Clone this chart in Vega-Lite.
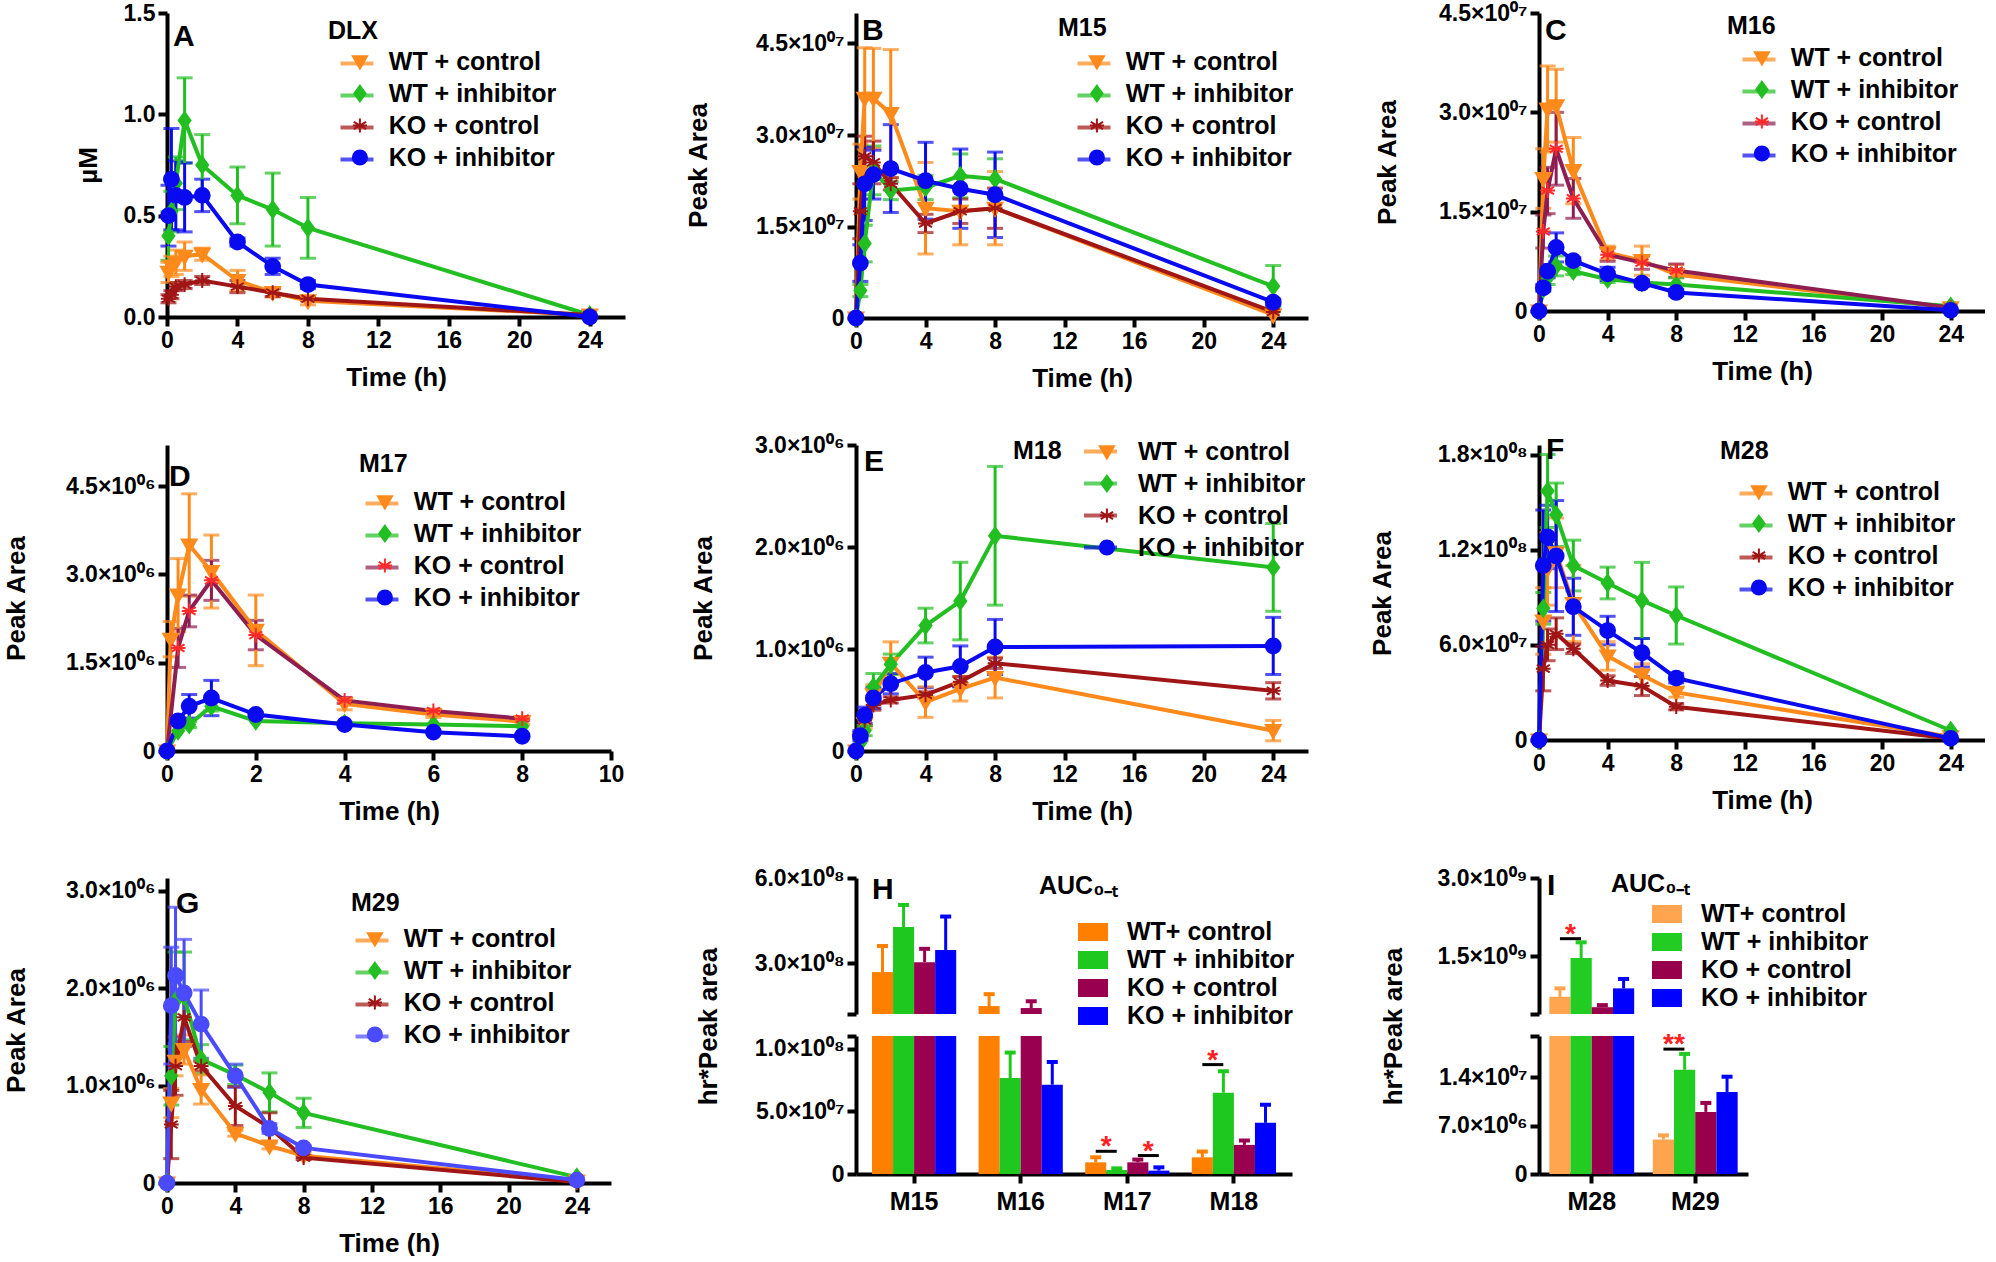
{
 "$schema": "https://vega.github.io/schema/vega-lite/v6.json",
 "padding": {"left": 3, "top": 2, "right": 0, "bottom": 0},
 "columns": 3,
 "spacing": {"row": 127, "column": 231},
 "bounds": "flush",
 "align": "each",
 "resolve": {"scale": {"color": "independent", "fill": "independent", "stroke": "independent", "shape": "independent", "xOffset": "independent"}, "legend": {"color": "independent", "fill": "independent", "stroke": "independent", "shape": "independent"}},
 "datasets": {
  "A": [
   {"s":"WT + control","t":0.083,"v":0.22,"sd":0.05},{"s":"WT + control","t":0.25,"v":0.25,"sd":0.05},{"s":"WT + control","t":0.5,"v":0.27,"sd":0.06},{"s":"WT + control","t":1,"v":0.30,"sd":0.07},{"s":"WT + control","t":2,"v":0.31,"sd":0.03},{"s":"WT + control","t":4,"v":0.18,"sd":0.05},{"s":"WT + control","t":6,"v":0.12,"sd":0.02},{"s":"WT + control","t":8,"v":0.08,"sd":0.02},{"s":"WT + control","t":24,"v":0.01,"sd":0},
   {"s":"WT + inhibitor","t":0.083,"v":0.40,"sd":0.12},{"s":"WT + inhibitor","t":0.25,"v":0.52,"sd":0.1},{"s":"WT + inhibitor","t":0.5,"v":0.66,"sd":0.13},{"s":"WT + inhibitor","t":1,"v":0.97,"sd":0.21},{"s":"WT + inhibitor","t":2,"v":0.75,"sd":0.15},{"s":"WT + inhibitor","t":4,"v":0.60,"sd":0.14},{"s":"WT + inhibitor","t":6,"v":0.53,"sd":0.18},{"s":"WT + inhibitor","t":8,"v":0.44,"sd":0.15},{"s":"WT + inhibitor","t":24,"v":0.01,"sd":0},
   {"s":"KO + control","t":0.083,"v":0.09,"sd":0.02},{"s":"KO + control","t":0.25,"v":0.11,"sd":0.02},{"s":"KO + control","t":0.5,"v":0.15,"sd":0.02},{"s":"KO + control","t":1,"v":0.16,"sd":0.02},{"s":"KO + control","t":2,"v":0.18,"sd":0.02},{"s":"KO + control","t":4,"v":0.15,"sd":0.03},{"s":"KO + control","t":6,"v":0.12,"sd":0.02},{"s":"KO + control","t":8,"v":0.09,"sd":0.01},{"s":"KO + control","t":24,"v":0.01,"sd":0},
   {"s":"KO + inhibitor","t":0.083,"v":0.50,"sd":0.15},{"s":"KO + inhibitor","t":0.25,"v":0.68,"sd":0.25},{"s":"KO + inhibitor","t":0.5,"v":0.60,"sd":0.17},{"s":"KO + inhibitor","t":1,"v":0.59,"sd":0.17},{"s":"KO + inhibitor","t":2,"v":0.60,"sd":0.08},{"s":"KO + inhibitor","t":4,"v":0.37,"sd":0.02},{"s":"KO + inhibitor","t":6,"v":0.25,"sd":0.04},{"s":"KO + inhibitor","t":8,"v":0.16,"sd":0.02},{"s":"KO + inhibitor","t":24,"v":0.0,"sd":0}
  ],
  "B": [
   {"s":"WT + control","t":0,"v":0,"sd":0},{"s":"WT + control","t":0.25,"v":2.4e7,"sd":0.45e7},{"s":"WT + control","t":0.5,"v":3.6e7,"sd":0.83e7},{"s":"WT + control","t":1,"v":3.6e7,"sd":0.82e7},{"s":"WT + control","t":2,"v":3.35e7,"sd":1.05e7},{"s":"WT + control","t":4,"v":1.8e7,"sd":0.75e7},{"s":"WT + control","t":6,"v":1.75e7,"sd":0.55e7},{"s":"WT + control","t":8,"v":1.8e7,"sd":0.6e7},{"s":"WT + control","t":24,"v":0.05e7,"sd":0},
   {"s":"WT + inhibitor","t":0,"v":0,"sd":0},{"s":"WT + inhibitor","t":0.25,"v":0.45e7,"sd":0.1e7},{"s":"WT + inhibitor","t":0.5,"v":1.22e7,"sd":0.3e7},{"s":"WT + inhibitor","t":1,"v":2.42e7,"sd":0.4e7},{"s":"WT + inhibitor","t":2,"v":2.09e7,"sd":0.15e7},{"s":"WT + inhibitor","t":4,"v":2.14e7,"sd":0.2e7},{"s":"WT + inhibitor","t":6,"v":2.33e7,"sd":0.36e7},{"s":"WT + inhibitor","t":8,"v":2.28e7,"sd":0.33e7},{"s":"WT + inhibitor","t":24,"v":0.52e7,"sd":0.34e7},
   {"s":"KO + control","t":0,"v":0,"sd":0},{"s":"KO + control","t":0.25,"v":1.75e7,"sd":0.45e7},{"s":"KO + control","t":0.5,"v":2.65e7,"sd":0.33e7},{"s":"KO + control","t":1,"v":2.55e7,"sd":0.35e7},{"s":"KO + control","t":2,"v":2.2e7,"sd":0.1e7},{"s":"KO + control","t":4,"v":1.55e7,"sd":0.15e7},{"s":"KO + control","t":6,"v":1.75e7,"sd":0.2e7},{"s":"KO + control","t":8,"v":1.8e7,"sd":0.33e7},{"s":"KO + control","t":24,"v":0.1e7,"sd":0},
   {"s":"KO + inhibitor","t":0,"v":0,"sd":0},{"s":"KO + inhibitor","t":0.25,"v":0.9e7,"sd":0.3e7},{"s":"KO + inhibitor","t":0.5,"v":2.2e7,"sd":0.6e7},{"s":"KO + inhibitor","t":1,"v":2.35e7,"sd":0.4e7},{"s":"KO + inhibitor","t":2,"v":2.45e7,"sd":0.72e7},{"s":"KO + inhibitor","t":4,"v":2.25e7,"sd":0.63e7},{"s":"KO + inhibitor","t":6,"v":2.12e7,"sd":0.65e7},{"s":"KO + inhibitor","t":8,"v":2.02e7,"sd":0.7e7},{"s":"KO + inhibitor","t":24,"v":0.26e7,"sd":0.05e7}
  ],
  "C": [
   {"s":"WT + control","t":0,"v":0,"sd":0},{"s":"WT + control","t":0.25,"v":2.0e7,"sd":0.45e7},{"s":"WT + control","t":0.5,"v":3.05e7,"sd":0.65e7},{"s":"WT + control","t":1,"v":3.1e7,"sd":0.55e7},{"s":"WT + control","t":2,"v":2.12e7,"sd":0.5e7},{"s":"WT + control","t":4,"v":0.88e7,"sd":0.1e7},{"s":"WT + control","t":6,"v":0.76e7,"sd":0.22e7},{"s":"WT + control","t":8,"v":0.55e7,"sd":0.15e7},{"s":"WT + control","t":24,"v":0.05e7,"sd":0},
   {"s":"WT + inhibitor","t":0,"v":0,"sd":0},{"s":"WT + inhibitor","t":0.25,"v":0.33e7,"sd":0},{"s":"WT + inhibitor","t":0.5,"v":0.5e7,"sd":0.1e7},{"s":"WT + inhibitor","t":1,"v":0.68e7,"sd":0.15e7},{"s":"WT + inhibitor","t":2,"v":0.6e7,"sd":0.05e7},{"s":"WT + inhibitor","t":4,"v":0.48e7,"sd":0.05e7},{"s":"WT + inhibitor","t":6,"v":0.43e7,"sd":0.03e7},{"s":"WT + inhibitor","t":8,"v":0.4e7,"sd":0.1e7},{"s":"WT + inhibitor","t":24,"v":0.07e7,"sd":0},
   {"s":"KO + control","t":0,"v":0,"sd":0},{"s":"KO + control","t":0.25,"v":1.2e7,"sd":0.25e7},{"s":"KO + control","t":0.5,"v":1.82e7,"sd":0.35e7},{"s":"KO + control","t":1,"v":2.45e7,"sd":0.55e7},{"s":"KO + control","t":2,"v":1.7e7,"sd":0.3e7},{"s":"KO + control","t":4,"v":0.85e7,"sd":0.1e7},{"s":"KO + control","t":6,"v":0.73e7,"sd":0.1e7},{"s":"KO + control","t":8,"v":0.61e7,"sd":0.1e7},{"s":"KO + control","t":24,"v":0.05e7,"sd":0},
   {"s":"KO + inhibitor","t":0,"v":0,"sd":0},{"s":"KO + inhibitor","t":0.25,"v":0.35e7,"sd":0.05e7},{"s":"KO + inhibitor","t":0.5,"v":0.6e7,"sd":0.1e7},{"s":"KO + inhibitor","t":1,"v":0.96e7,"sd":0.22e7},{"s":"KO + inhibitor","t":2,"v":0.76e7,"sd":0.05e7},{"s":"KO + inhibitor","t":4,"v":0.56e7,"sd":0.1e7},{"s":"KO + inhibitor","t":6,"v":0.42e7,"sd":0.05e7},{"s":"KO + inhibitor","t":8,"v":0.28e7,"sd":0.05e7},{"s":"KO + inhibitor","t":24,"v":0.01e7,"sd":0}
  ],
  "D": [
   {"s":"WT + control","t":0,"v":0,"sd":0},{"s":"WT + control","t":0.083,"v":1.9e6,"sd":0.3e6},{"s":"WT + control","t":0.25,"v":2.65e6,"sd":0.62e6},{"s":"WT + control","t":0.5,"v":3.5e6,"sd":0.87e6},{"s":"WT + control","t":1,"v":3.05e6,"sd":0.62e6},{"s":"WT + control","t":2,"v":2.05e6,"sd":0.6e6},{"s":"WT + control","t":4,"v":0.8e6,"sd":0.1e6},{"s":"WT + control","t":6,"v":0.62e6,"sd":0.05e6},{"s":"WT + control","t":8,"v":0.5e6,"sd":0.05e6},
   {"s":"WT + inhibitor","t":0,"v":0,"sd":0},{"s":"WT + inhibitor","t":0.25,"v":0.34e6,"sd":0},{"s":"WT + inhibitor","t":0.5,"v":0.45e6,"sd":0.05e6},{"s":"WT + inhibitor","t":1,"v":0.76e6,"sd":0.08e6},{"s":"WT + inhibitor","t":2,"v":0.51e6,"sd":0},{"s":"WT + inhibitor","t":4,"v":0.47e6,"sd":0},{"s":"WT + inhibitor","t":6,"v":0.45e6,"sd":0},{"s":"WT + inhibitor","t":8,"v":0.42e6,"sd":0},
   {"s":"KO + control","t":0,"v":0,"sd":0},{"s":"KO + control","t":0.25,"v":1.75e6,"sd":0.33e6},{"s":"KO + control","t":0.5,"v":2.38e6,"sd":0.27e6},{"s":"KO + control","t":1,"v":2.9e6,"sd":0.34e6},{"s":"KO + control","t":2,"v":1.97e6,"sd":0.25e6},{"s":"KO + control","t":4,"v":0.86e6,"sd":0.05e6},{"s":"KO + control","t":6,"v":0.68e6,"sd":0.03e6},{"s":"KO + control","t":8,"v":0.55e6,"sd":0.03e6},
   {"s":"KO + inhibitor","t":0,"v":0,"sd":0},{"s":"KO + inhibitor","t":0.25,"v":0.51e6,"sd":0.05e6},{"s":"KO + inhibitor","t":0.5,"v":0.76e6,"sd":0.2e6},{"s":"KO + inhibitor","t":1,"v":0.9e6,"sd":0.3e6},{"s":"KO + inhibitor","t":2,"v":0.62e6,"sd":0.03e6},{"s":"KO + inhibitor","t":4,"v":0.45e6,"sd":0},{"s":"KO + inhibitor","t":6,"v":0.32e6,"sd":0},{"s":"KO + inhibitor","t":8,"v":0.25e6,"sd":0}
  ],
  "E": [
   {"s":"WT + control","t":0,"v":0,"sd":0},{"s":"WT + control","t":0.25,"v":0.1e6,"sd":0},{"s":"WT + control","t":0.5,"v":0.27e6,"sd":0.05e6},{"s":"WT + control","t":1,"v":0.55e6,"sd":0.1e6},{"s":"WT + control","t":2,"v":0.86e6,"sd":0.21e6},{"s":"WT + control","t":4,"v":0.48e6,"sd":0.15e6},{"s":"WT + control","t":6,"v":0.61e6,"sd":0.12e6},{"s":"WT + control","t":8,"v":0.72e6,"sd":0.2e6},{"s":"WT + control","t":24,"v":0.2e6,"sd":0.1e6},
   {"s":"WT + inhibitor","t":0,"v":0,"sd":0},{"s":"WT + inhibitor","t":0.25,"v":0.08e6,"sd":0},{"s":"WT + inhibitor","t":0.5,"v":0.2e6,"sd":0.05e6},{"s":"WT + inhibitor","t":1,"v":0.63e6,"sd":0.13e6},{"s":"WT + inhibitor","t":2,"v":0.85e6,"sd":0.1e6},{"s":"WT + inhibitor","t":4,"v":1.23e6,"sd":0.17e6},{"s":"WT + inhibitor","t":6,"v":1.47e6,"sd":0.38e6},{"s":"WT + inhibitor","t":8,"v":2.11e6,"sd":0.68e6},{"s":"WT + inhibitor","t":24,"v":1.8e6,"sd":0.43e6},
   {"s":"KO + control","t":0,"v":0,"sd":0},{"s":"KO + control","t":0.25,"v":0.15e6,"sd":0.03e6},{"s":"KO + control","t":0.5,"v":0.3e6,"sd":0.05e6},{"s":"KO + control","t":1,"v":0.45e6,"sd":0.05e6},{"s":"KO + control","t":2,"v":0.5e6,"sd":0.03e6},{"s":"KO + control","t":4,"v":0.55e6,"sd":0.03e6},{"s":"KO + control","t":6,"v":0.68e6,"sd":0.05e6},{"s":"KO + control","t":8,"v":0.86e6,"sd":0.05e6},{"s":"KO + control","t":24,"v":0.59e6,"sd":0.08e6},
   {"s":"KO + inhibitor","t":0,"v":0,"sd":0},{"s":"KO + inhibitor","t":0.25,"v":0.15e6,"sd":0.05e6},{"s":"KO + inhibitor","t":0.5,"v":0.35e6,"sd":0.08e6},{"s":"KO + inhibitor","t":1,"v":0.52e6,"sd":0.1e6},{"s":"KO + inhibitor","t":2,"v":0.66e6,"sd":0.1e6},{"s":"KO + inhibitor","t":4,"v":0.77e6,"sd":0.15e6},{"s":"KO + inhibitor","t":6,"v":0.83e6,"sd":0.2e6},{"s":"KO + inhibitor","t":8,"v":1.02e6,"sd":0.27e6},{"s":"KO + inhibitor","t":24,"v":1.03e6,"sd":0.28e6}
  ],
  "F": [
   {"s":"WT + control","t":0,"v":0,"sd":0},{"s":"WT + control","t":0.25,"v":7.5e7,"sd":2.1e7},{"s":"WT + control","t":0.5,"v":10.8e7,"sd":2.3e7},{"s":"WT + control","t":1,"v":11.8e7,"sd":2.2e7},{"s":"WT + control","t":2,"v":8.6e7,"sd":2.4e7},{"s":"WT + control","t":4,"v":5.3e7,"sd":0.9e7},{"s":"WT + control","t":6,"v":4.1e7,"sd":0.7e7},{"s":"WT + control","t":8,"v":3.0e7,"sd":0.3e7},{"s":"WT + control","t":24,"v":0.2e7,"sd":0},
   {"s":"WT + inhibitor","t":0,"v":0,"sd":0},{"s":"WT + inhibitor","t":0.25,"v":8.3e7,"sd":1.0e7},{"s":"WT + inhibitor","t":0.5,"v":15.7e7,"sd":2.3e7},{"s":"WT + inhibitor","t":1,"v":14.2e7,"sd":2.0e7},{"s":"WT + inhibitor","t":2,"v":11.0e7,"sd":1.6e7},{"s":"WT + inhibitor","t":4,"v":9.9e7,"sd":1.0e7},{"s":"WT + inhibitor","t":6,"v":8.8e7,"sd":2.4e7},{"s":"WT + inhibitor","t":8,"v":7.85e7,"sd":1.8e7},{"s":"WT + inhibitor","t":24,"v":0.6e7,"sd":0},
   {"s":"KO + control","t":0,"v":0,"sd":0},{"s":"KO + control","t":0.25,"v":4.5e7,"sd":1.4e7},{"s":"KO + control","t":0.5,"v":6.0e7,"sd":1.0e7},{"s":"KO + control","t":1,"v":6.7e7,"sd":1.0e7},{"s":"KO + control","t":2,"v":5.75e7,"sd":0.3e7},{"s":"KO + control","t":4,"v":3.75e7,"sd":0.3e7},{"s":"KO + control","t":6,"v":3.4e7,"sd":0.6e7},{"s":"KO + control","t":8,"v":2.1e7,"sd":0.2e7},{"s":"KO + control","t":24,"v":0.1e7,"sd":0},
   {"s":"KO + inhibitor","t":0,"v":0,"sd":0},{"s":"KO + inhibitor","t":0.25,"v":11.0e7,"sd":3.5e7},{"s":"KO + inhibitor","t":0.5,"v":12.8e7,"sd":2.0e7},{"s":"KO + inhibitor","t":1,"v":11.6e7,"sd":3.5e7},{"s":"KO + inhibitor","t":2,"v":8.4e7,"sd":1.8e7},{"s":"KO + inhibitor","t":4,"v":6.9e7,"sd":0.9e7},{"s":"KO + inhibitor","t":6,"v":5.5e7,"sd":0.9e7},{"s":"KO + inhibitor","t":8,"v":3.9e7,"sd":0.3e7},{"s":"KO + inhibitor","t":24,"v":0.1e7,"sd":0}
  ],
  "G": [
   {"s":"WT + control","t":0,"v":0,"sd":0},{"s":"WT + control","t":0.25,"v":0.82e6,"sd":0.15e6},{"s":"WT + control","t":0.5,"v":1.25e6,"sd":0.15e6},{"s":"WT + control","t":1,"v":1.37e6,"sd":0.15e6},{"s":"WT + control","t":2,"v":0.96e6,"sd":0.15e6},{"s":"WT + control","t":4,"v":0.51e6,"sd":0.03e6},{"s":"WT + control","t":6,"v":0.38e6,"sd":0.03e6},{"s":"WT + control","t":8,"v":0.28e6,"sd":0.02e6},{"s":"WT + control","t":24,"v":0.02e6,"sd":0},
   {"s":"WT + inhibitor","t":0,"v":0,"sd":0},{"s":"WT + inhibitor","t":0.25,"v":1.1e6,"sd":0.3e6},{"s":"WT + inhibitor","t":0.5,"v":1.87e6,"sd":0.5e6},{"s":"WT + inhibitor","t":1,"v":1.92e6,"sd":0.45e6},{"s":"WT + inhibitor","t":2,"v":1.27e6,"sd":0.15e6},{"s":"WT + inhibitor","t":4,"v":1.11e6,"sd":0.1e6},{"s":"WT + inhibitor","t":6,"v":0.93e6,"sd":0.2e6},{"s":"WT + inhibitor","t":8,"v":0.72e6,"sd":0.15e6},{"s":"WT + inhibitor","t":24,"v":0.06e6,"sd":0},
   {"s":"KO + control","t":0,"v":0,"sd":0},{"s":"KO + control","t":0.25,"v":0.6e6,"sd":0.35e6},{"s":"KO + control","t":0.5,"v":1.2e6,"sd":0.3e6},{"s":"KO + control","t":1,"v":1.7e6,"sd":0.25e6},{"s":"KO + control","t":2,"v":1.2e6,"sd":0.05e6},{"s":"KO + control","t":4,"v":0.79e6,"sd":0.2e6},{"s":"KO + control","t":6,"v":0.57e6,"sd":0.15e6},{"s":"KO + control","t":8,"v":0.26e6,"sd":0.02e6},{"s":"KO + control","t":24,"v":0.01e6,"sd":0},
   {"s":"KO + inhibitor","t":0,"v":0,"sd":0},{"s":"KO + inhibitor","t":0.25,"v":1.82e6,"sd":0.6e6},{"s":"KO + inhibitor","t":0.5,"v":2.13e6,"sd":0.7e6},{"s":"KO + inhibitor","t":1,"v":1.95e6,"sd":0.55e6},{"s":"KO + inhibitor","t":2,"v":1.63e6,"sd":0.35e6},{"s":"KO + inhibitor","t":4,"v":1.1e6,"sd":0.12e6},{"s":"KO + inhibitor","t":6,"v":0.56e6,"sd":0.05e6},{"s":"KO + inhibitor","t":8,"v":0.36e6,"sd":0.02e6},{"s":"KO + inhibitor","t":24,"v":0.03e6,"sd":0}
  ],
  "H": [
   {"m":"M15","s":"WT+ control","v":2.68e8,"hi":3.6e8},{"m":"M15","s":"WT + inhibitor","v":4.27e8,"hi":5.05e8},{"m":"M15","s":"KO + control","v":3.03e8,"hi":3.5e8},{"m":"M15","s":"KO + inhibitor","v":3.46e8,"hi":4.64e8},
   {"m":"M16","s":"WT+ control","v":1.48e8,"hi":1.9e8},{"m":"M16","s":"WT + inhibitor","v":0.765e8,"hi":0.968e8},{"m":"M16","s":"KO + control","v":1.41e8,"hi":1.65e8},{"m":"M16","s":"KO + inhibitor","v":0.712e8,"hi":0.893e8},
   {"m":"M17","s":"WT+ control","v":9.3e6,"hi":1.33e7},{"m":"M17","s":"WT + inhibitor","v":3.2e6,"hi":4.5e6},{"m":"M17","s":"KO + control","v":9.3e6,"hi":1.15e7},{"m":"M17","s":"KO + inhibitor","v":2.7e6,"hi":5.3e6},
   {"m":"M18","s":"WT+ control","v":1.33e7,"hi":1.79e7},{"m":"M18","s":"WT + inhibitor","v":6.48e7,"hi":8.19e7},{"m":"M18","s":"KO + control","v":2.32e7,"hi":2.67e7},{"m":"M18","s":"KO + inhibitor","v":4.08e7,"hi":5.52e7}
  ],
  "Hs": [
   {"m":"M17","s":"WT+ control","y":1.81e7,"lab":"*"},
   {"m":"M17","s":"KO + control","y":1.47e7,"lab":"*"},
   {"m":"M18","s":"WT+ control","y":8.72e7,"lab":"*"}
  ],
  "I": [
   {"m":"M28","s":"WT+ control","v":0.73e9,"hi":0.89e9},{"m":"M28","s":"WT + inhibitor","v":1.47e9,"hi":1.77e9},{"m":"M28","s":"KO + control","v":0.53e9,"hi":0.57e9},{"m":"M28","s":"KO + inhibitor","v":0.89e9,"hi":1.07e9},
   {"m":"M29","s":"WT+ control","v":5.0e6,"hi":5.6e6},{"m":"M29","s":"WT + inhibitor","v":1.51e7,"hi":1.74e7},{"m":"M29","s":"KO + control","v":9.0e6,"hi":1.03e7},{"m":"M29","s":"KO + inhibitor","v":1.19e7,"hi":1.41e7}
  ],
  "Is": [
   {"m":"M28","s":"WT+ control","y":1.84e9,"lab":"*","seg":"upper"},
   {"m":"M29","s":"WT+ control","y":1.81e7,"lab":"**","seg":"lower"}
  ]
 },
 "concat": [
  {
   "width": 458, "height": 304,
   "title": {"text": "A", "dx": 6, "dy": 54},
   "data": {"name": "A"},
   "encoding": {
    "x": {"field": "t", "type": "quantitative", "scale": {"domain": [0, 26], "nice": false, "zero": false}, "axis": {"values": [0,4,8,12,16,20,24], "title": "Time (h)"}},
    "y": {"field": "v", "type": "quantitative", "scale": {"domain": [0, 1.5], "nice": false}, "axis": {"values": [0,0.5,1,1.5], "format": ".1f", "title": "µM", "titleX": -79, "titleY": 152}}
   },
   "layer": [
    {"transform": [{"filter": "datum.sd > 0"}], "mark": {"type": "errorbar", "ticks": true, "size": 16, "thickness": 3}, "encoding": {"yError": {"field": "sd"}, "color": {"field": "s", "type": "nominal", "scale": {"domain": ["KO + inhibitor","KO + control","WT + inhibitor","WT + control"], "range": ["#0A0AF0","#A01515","#22BE22","#FF8A1C"]},
      "legend": {"title": "DLX", "values": ["WT + control","WT + inhibitor","KO + control","KO + inhibitor"], "orient": "none", "legendX": 161, "legendY": 6, "titlePadding": 7, "rowPadding": 6, "symbolType": "M0,0L3.3,0", "symbolSize": 400, "symbolStrokeWidth": 4, "labelExpr": "''"}}}},
    {"mark": {"type": "line", "strokeWidth": 4}, "encoding": {"color": {"field": "s", "type": "nominal", "scale": {"domain": ["KO + inhibitor","KO + control","WT + inhibitor","WT + control"], "range": ["#0A0AF0","#A01515","#22BE22","#FF8A1C"]},
      "legend": {"title": "DLX", "values": ["WT + control","WT + inhibitor","KO + control","KO + inhibitor"], "orient": "none", "legendX": 161, "legendY": 6, "titlePadding": 7, "rowPadding": 6, "symbolType": "M0,0L3.3,0", "symbolSize": 400, "symbolStrokeWidth": 4, "labelExpr": "''"}}}},
    {"mark": {"type": "point", "filled": true, "opacity": 1, "size": 220, "strokeWidth": 2},
     "encoding": {
      "fill": {"field": "s", "type": "nominal", "scale": {"domain": ["WT + control","WT + inhibitor","KO + control","KO + inhibitor"], "range": ["#FF8A1C","#22BE22","#A01515","#0A0AF0"]}},
      "stroke": {"field": "s", "type": "nominal", "scale": {"domain": ["WT + control","WT + inhibitor","KO + control","KO + inhibitor"], "range": ["#FF8A1C","#22BE22","#A01515","#0A0AF0"]}},
      "shape": {"field": "s", "type": "nominal", "scale": {"domain": ["WT + control","WT + inhibitor","KO + control","KO + inhibitor"], "range": ["M-1,-0.75L1,-0.75L0,1Z","M0,-1.1L0.8,0L0,1.1L-0.8,0Z","M0,-1L0,1M-0.87,-0.5L0.87,0.5M-0.87,0.5L0.87,-0.5M-1,0L1,0","circle"]},
       "legend": {"title": null, "orient": "none", "legendX": 180.4, "legendY": 36, "rowPadding": 6, "symbolSize": 200, "symbolStrokeWidth": 2, "labelOffset": 16.4}}
     }}
   ]
  },
  {
   "width": 452, "height": 305,
   "title": {"text": "B", "dx": 6, "dy": 37},
   "data": {"name": "B"},
   "encoding": {
    "x": {"field": "t", "type": "quantitative", "scale": {"domain": [0, 26], "nice": false, "zero": false}, "axis": {"values": [0,4,8,12,16,20,24], "title": "Time (h)"}},
    "y": {"field": "v", "type": "quantitative", "scale": {"domain": [0, 5e7], "nice": false}, "axis": {"values": [0,1.5e7,3e7,4.5e7], "labelExpr": "datum.value == 0 ? '0' : format(datum.value / 1e7, '.1f') + '×10⁰⁷'", "title": "Peak Area", "titleX": -158, "titleY": 152}}
   },
   "layer": [
    {"transform": [{"filter": "datum.sd > 0"}], "mark": {"type": "errorbar", "ticks": true, "size": 16, "thickness": 3}, "encoding": {"yError": {"field": "sd"}, "color": {"field": "s", "type": "nominal", "scale": {"domain": ["KO + inhibitor","KO + control","WT + inhibitor","WT + control"], "range": ["#0A0AF0","#A01515","#22BE22","#FF8A1C"]},
      "legend": {"title": "M15", "values": ["WT + control","WT + inhibitor","KO + control","KO + inhibitor"], "orient": "none", "legendX": 202, "legendY": 3, "titlePadding": 10, "rowPadding": 6, "symbolType": "M0.7,0L4,0", "symbolSize": 400, "symbolStrokeWidth": 4, "labelExpr": "''"}}}},
    {"mark": {"type": "line", "strokeWidth": 4}, "encoding": {"color": {"field": "s", "type": "nominal", "scale": {"domain": ["KO + inhibitor","KO + control","WT + inhibitor","WT + control"], "range": ["#0A0AF0","#A01515","#22BE22","#FF8A1C"]},
      "legend": {"title": "M15", "values": ["WT + control","WT + inhibitor","KO + control","KO + inhibitor"], "orient": "none", "legendX": 202, "legendY": 3, "titlePadding": 10, "rowPadding": 6, "symbolType": "M0.7,0L4,0", "symbolSize": 400, "symbolStrokeWidth": 4, "labelExpr": "''"}}}},
    {"mark": {"type": "point", "filled": true, "opacity": 1, "size": 220, "strokeWidth": 2},
     "encoding": {
      "fill": {"field": "s", "type": "nominal", "scale": {"domain": ["WT + control","WT + inhibitor","KO + control","KO + inhibitor"], "range": ["#FF8A1C","#22BE22","#A01515","#0A0AF0"]}},
      "stroke": {"field": "s", "type": "nominal", "scale": {"domain": ["WT + control","WT + inhibitor","KO + control","KO + inhibitor"], "range": ["#FF8A1C","#22BE22","#A01515","#0A0AF0"]}},
      "shape": {"field": "s", "type": "nominal", "scale": {"domain": ["WT + control","WT + inhibitor","KO + control","KO + inhibitor"], "range": ["M-1,-0.75L1,-0.75L0,1Z","M0,-1.1L0.8,0L0,1.1L-0.8,0Z","M0,-1L0,1M-0.87,-0.5L0.87,0.5M-0.87,0.5L0.87,-0.5M-1,0L1,0","circle"]},
       "legend": {"title": null, "orient": "none", "legendX": 228.4, "legendY": 36, "rowPadding": 6, "symbolSize": 200, "symbolStrokeWidth": 2, "labelOffset": 16.4}}
     }}
   ]
  },
  {
   "width": 446, "height": 298,
   "title": {"text": "C", "dx": 6, "dy": 48},
   "data": {"name": "C"},
   "encoding": {
    "x": {"field": "t", "type": "quantitative", "scale": {"domain": [0, 26], "nice": false, "zero": false}, "axis": {"values": [0,4,8,12,16,20,24], "title": "Time (h)"}},
    "y": {"field": "v", "type": "quantitative", "scale": {"domain": [0, 4.5e7], "nice": false}, "axis": {"values": [0,1.5e7,3e7,4.5e7], "labelExpr": "datum.value == 0 ? '0' : format(datum.value / 1e7, '.1f') + '×10⁰⁷'", "title": "Peak Area", "titleX": -152, "titleY": 149}}
   },
   "layer": [
    {"transform": [{"filter": "datum.sd > 0"}], "mark": {"type": "errorbar", "ticks": true, "size": 16, "thickness": 3}, "encoding": {"yError": {"field": "sd"}, "color": {"field": "s", "type": "nominal", "scale": {"domain": ["KO + inhibitor","KO + control","WT + inhibitor","WT + control"], "range": ["#0A0AF0","#8E1E52","#22BE22","#FF8A1C"]},
      "legend": {"title": "M16", "values": ["WT + control","WT + inhibitor","KO + control","KO + inhibitor"], "orient": "none", "legendX": 188, "legendY": 1, "titlePadding": 8, "rowPadding": 6, "symbolType": "M0.3,0L3.6,0", "symbolSize": 400, "symbolStrokeWidth": 4, "labelExpr": "''"}}}},
    {"mark": {"type": "line", "strokeWidth": 4}, "encoding": {"color": {"field": "s", "type": "nominal", "scale": {"domain": ["KO + inhibitor","KO + control","WT + inhibitor","WT + control"], "range": ["#0A0AF0","#8E1E52","#22BE22","#FF8A1C"]},
      "legend": {"title": "M16", "values": ["WT + control","WT + inhibitor","KO + control","KO + inhibitor"], "orient": "none", "legendX": 188, "legendY": 1, "titlePadding": 8, "rowPadding": 6, "symbolType": "M0.3,0L3.6,0", "symbolSize": 400, "symbolStrokeWidth": 4, "labelExpr": "''"}}}},
    {"mark": {"type": "point", "filled": true, "opacity": 1, "size": 220, "strokeWidth": 2},
     "encoding": {
      "fill": {"field": "s", "type": "nominal", "scale": {"domain": ["WT + control","WT + inhibitor","KO + control","KO + inhibitor"], "range": ["#FF8A1C","#22BE22","#FF2A2A","#0A0AF0"]}},
      "stroke": {"field": "s", "type": "nominal", "scale": {"domain": ["WT + control","WT + inhibitor","KO + control","KO + inhibitor"], "range": ["#FF8A1C","#22BE22","#FF2A2A","#0A0AF0"]}},
      "shape": {"field": "s", "type": "nominal", "scale": {"domain": ["WT + control","WT + inhibitor","KO + control","KO + inhibitor"], "range": ["M-1,-0.75L1,-0.75L0,1Z","M0,-1.1L0.8,0L0,1.1L-0.8,0Z","M0,-1L0,1M-0.87,-0.5L0.87,0.5M-0.87,0.5L0.87,-0.5M-1,0L1,0","circle"]},
       "legend": {"title": null, "orient": "none", "legendX": 210.4, "legendY": 32, "rowPadding": 6, "symbolSize": 200, "symbolStrokeWidth": 2, "labelOffset": 16.4}}
     }}
   ]
  },
  {
   "width": 444, "height": 306,
   "title": {"text": "D", "dx": 2, "dy": 51},
   "data": {"name": "D"},
   "encoding": {
    "x": {"field": "t", "type": "quantitative", "scale": {"domain": [0, 10], "nice": false, "zero": false}, "axis": {"values": [0,2,4,6,8,10], "title": "Time (h)"}},
    "y": {"field": "v", "type": "quantitative", "scale": {"domain": [0, 5.2e6], "nice": false}, "axis": {"values": [0,1.5e6,3e6,4.5e6], "labelExpr": "datum.value == 0 ? '0' : format(datum.value / 1e6, '.1f') + '×10⁰⁶'", "title": "Peak Area", "titleX": -151, "titleY": 153}}
   },
   "layer": [
    {"transform": [{"filter": "datum.sd > 0"}], "mark": {"type": "errorbar", "ticks": true, "size": 16, "thickness": 3}, "encoding": {"yError": {"field": "sd"}, "color": {"field": "s", "type": "nominal", "scale": {"domain": ["KO + inhibitor","KO + control","WT + inhibitor","WT + control"], "range": ["#0A0AF0","#8E1E52","#22BE22","#FF8A1C"]},
      "legend": {"title": "M17", "values": ["WT + control","WT + inhibitor","KO + control","KO + inhibitor"], "orient": "none", "legendX": 192, "legendY": 7, "titlePadding": 14, "rowPadding": 6, "symbolType": "M-0.6,0L2.7,0", "symbolSize": 400, "symbolStrokeWidth": 4, "labelExpr": "''"}}}},
    {"mark": {"type": "line", "strokeWidth": 4}, "encoding": {"color": {"field": "s", "type": "nominal", "scale": {"domain": ["KO + inhibitor","KO + control","WT + inhibitor","WT + control"], "range": ["#0A0AF0","#8E1E52","#22BE22","#FF8A1C"]},
      "legend": {"title": "M17", "values": ["WT + control","WT + inhibitor","KO + control","KO + inhibitor"], "orient": "none", "legendX": 192, "legendY": 7, "titlePadding": 14, "rowPadding": 6, "symbolType": "M-0.6,0L2.7,0", "symbolSize": 400, "symbolStrokeWidth": 4, "labelExpr": "''"}}}},
    {"mark": {"type": "point", "filled": true, "opacity": 1, "size": 220, "strokeWidth": 2},
     "encoding": {
      "fill": {"field": "s", "type": "nominal", "scale": {"domain": ["WT + control","WT + inhibitor","KO + control","KO + inhibitor"], "range": ["#FF8A1C","#22BE22","#FF2A2A","#0A0AF0"]}},
      "stroke": {"field": "s", "type": "nominal", "scale": {"domain": ["WT + control","WT + inhibitor","KO + control","KO + inhibitor"], "range": ["#FF8A1C","#22BE22","#FF2A2A","#0A0AF0"]}},
      "shape": {"field": "s", "type": "nominal", "scale": {"domain": ["WT + control","WT + inhibitor","KO + control","KO + inhibitor"], "range": ["M-1,-0.75L1,-0.75L0,1Z","M0,-1.1L0.8,0L0,1.1L-0.8,0Z","M0,-1L0,1M-0.87,-0.5L0.87,0.5M-0.87,0.5L0.87,-0.5M-1,0L1,0","circle"]},
       "legend": {"title": null, "orient": "none", "legendX": 205.4, "legendY": 44, "rowPadding": 6, "symbolSize": 200, "symbolStrokeWidth": 2, "labelOffset": 16.4}}
     }}
   ]
  },
  {
   "width": 452, "height": 306,
   "title": {"text": "E", "dx": 8, "dy": 47},
   "data": {"name": "E"},
   "encoding": {
    "x": {"field": "t", "type": "quantitative", "scale": {"domain": [0, 26], "nice": false, "zero": false}, "axis": {"values": [0,4,8,12,16,20,24], "title": "Time (h)"}},
    "y": {"field": "v", "type": "quantitative", "scale": {"domain": [0, 3e6], "nice": false}, "axis": {"values": [0,1e6,2e6,3e6], "labelExpr": "datum.value == 0 ? '0' : format(datum.value / 1e6, '.1f') + '×10⁰⁶'", "title": "Peak Area", "titleX": -153, "titleY": 153}}
   },
   "layer": [
    {"transform": [{"filter": "datum.sd > 0"}], "mark": {"type": "errorbar", "ticks": true, "size": 16, "thickness": 3}, "encoding": {"yError": {"field": "sd"}, "color": {"field": "s", "type": "nominal", "scale": {"domain": ["KO + inhibitor","KO + control","WT + inhibitor","WT + control"], "range": ["#0A0AF0","#A01515","#22BE22","#FF8A1C"]},
      "legend": {"title": "M18", "titleOrient": "left", "titleAnchor": "start", "values": ["WT + control","WT + inhibitor","KO + control","KO + inhibitor"], "orient": "none", "legendX": 157, "legendY": -6, "titlePadding": 26, "rowPadding": 6, "symbolType": "M-1.65,0L1.65,0", "symbolSize": 400, "symbolStrokeWidth": 4, "labelExpr": "''"}}}},
    {"mark": {"type": "line", "strokeWidth": 4}, "encoding": {"color": {"field": "s", "type": "nominal", "scale": {"domain": ["KO + inhibitor","KO + control","WT + inhibitor","WT + control"], "range": ["#0A0AF0","#A01515","#22BE22","#FF8A1C"]},
      "legend": {"title": "M18", "titleOrient": "left", "titleAnchor": "start", "values": ["WT + control","WT + inhibitor","KO + control","KO + inhibitor"], "orient": "none", "legendX": 157, "legendY": -6, "titlePadding": 26, "rowPadding": 6, "symbolType": "M-1.65,0L1.65,0", "symbolSize": 400, "symbolStrokeWidth": 4, "labelExpr": "''"}}}},
    {"mark": {"type": "point", "filled": true, "opacity": 1, "size": 220, "strokeWidth": 2},
     "encoding": {
      "fill": {"field": "s", "type": "nominal", "scale": {"domain": ["WT + control","WT + inhibitor","KO + control","KO + inhibitor"], "range": ["#FF8A1C","#22BE22","#A01515","#0A0AF0"]}},
      "stroke": {"field": "s", "type": "nominal", "scale": {"domain": ["WT + control","WT + inhibitor","KO + control","KO + inhibitor"], "range": ["#FF8A1C","#22BE22","#A01515","#0A0AF0"]}},
      "shape": {"field": "s", "type": "nominal", "scale": {"domain": ["WT + control","WT + inhibitor","KO + control","KO + inhibitor"], "range": ["M-1,-0.75L1,-0.75L0,1Z","M0,-1.1L0.8,0L0,1.1L-0.8,0Z","M0,-1L0,1M-0.87,-0.5L0.87,0.5M-0.87,0.5L0.87,-0.5M-1,0L1,0","circle"]},
       "legend": {"title": null, "orient": "none", "legendX": 238.4, "legendY": -6, "rowPadding": 6, "symbolSize": 200, "symbolStrokeWidth": 2, "labelOffset": 18.5}}
     }}
   ]
  },
  {
   "width": 446, "height": 295,
   "title": {"text": "F", "dx": 7, "dy": 30},
   "data": {"name": "F"},
   "encoding": {
    "x": {"field": "t", "type": "quantitative", "scale": {"domain": [0, 26], "nice": false, "zero": false}, "axis": {"values": [0,4,8,12,16,20,24], "title": "Time (h)"}},
    "y": {"field": "v", "type": "quantitative", "scale": {"domain": [0, 1.86e8], "nice": false}, "axis": {"values": [0,6e7,1.2e8,1.8e8], "labelExpr": "datum.value == 0 ? '0' : datum.value < 1e8 ? format(datum.value / 1e7, '.1f') + '×10⁰⁷' : format(datum.value / 1e8, '.1f') + '×10⁰⁸'", "title": "Peak Area", "titleX": -157, "titleY": 148}}
   },
   "layer": [
    {"transform": [{"filter": "datum.sd > 0"}], "mark": {"type": "errorbar", "ticks": true, "size": 16, "thickness": 3}, "encoding": {"yError": {"field": "sd"}, "color": {"field": "s", "type": "nominal", "scale": {"domain": ["KO + inhibitor","KO + control","WT + inhibitor","WT + control"], "range": ["#0A0AF0","#A01515","#22BE22","#FF8A1C"]},
      "legend": {"title": "M28", "values": ["WT + control","WT + inhibitor","KO + control","KO + inhibitor"], "orient": "none", "legendX": 181, "legendY": -6, "titlePadding": 17, "rowPadding": 6, "symbolType": "M0.7,0L4,0", "symbolSize": 400, "symbolStrokeWidth": 4, "labelExpr": "''"}}}},
    {"mark": {"type": "line", "strokeWidth": 4}, "encoding": {"color": {"field": "s", "type": "nominal", "scale": {"domain": ["KO + inhibitor","KO + control","WT + inhibitor","WT + control"], "range": ["#0A0AF0","#A01515","#22BE22","#FF8A1C"]},
      "legend": {"title": "M28", "values": ["WT + control","WT + inhibitor","KO + control","KO + inhibitor"], "orient": "none", "legendX": 181, "legendY": -6, "titlePadding": 17, "rowPadding": 6, "symbolType": "M0.7,0L4,0", "symbolSize": 400, "symbolStrokeWidth": 4, "labelExpr": "''"}}}},
    {"mark": {"type": "point", "filled": true, "opacity": 1, "size": 220, "strokeWidth": 2},
     "encoding": {
      "fill": {"field": "s", "type": "nominal", "scale": {"domain": ["WT + control","WT + inhibitor","KO + control","KO + inhibitor"], "range": ["#FF8A1C","#22BE22","#A01515","#0A0AF0"]}},
      "stroke": {"field": "s", "type": "nominal", "scale": {"domain": ["WT + control","WT + inhibitor","KO + control","KO + inhibitor"], "range": ["#FF8A1C","#22BE22","#A01515","#0A0AF0"]}},
      "shape": {"field": "s", "type": "nominal", "scale": {"domain": ["WT + control","WT + inhibitor","KO + control","KO + inhibitor"], "range": ["M-1,-0.75L1,-0.75L0,1Z","M0,-1.1L0.8,0L0,1.1L-0.8,0Z","M0,-1L0,1M-0.87,-0.5L0.87,0.5M-0.87,0.5L0.87,-0.5M-1,0L1,0","circle"]},
       "legend": {"title": null, "orient": "none", "legendX": 207.4, "legendY": 34, "rowPadding": 6, "symbolSize": 200, "symbolStrokeWidth": 2, "labelOffset": 16.4}}
     }}
   ]
  },
  {
   "width": 444, "height": 305,
   "title": {"text": "G", "dx": 9, "dy": 45},
   "data": {"name": "G"},
   "encoding": {
    "x": {"field": "t", "type": "quantitative", "scale": {"domain": [0, 26], "nice": false, "zero": false}, "axis": {"values": [0,4,8,12,16,20,24], "title": "Time (h)"}},
    "y": {"field": "v", "type": "quantitative", "scale": {"domain": [0, 3.13e6], "nice": false}, "axis": {"values": [0,1e6,2e6,3e6], "labelExpr": "datum.value == 0 ? '0' : format(datum.value / 1e6, '.1f') + '×10⁰⁶'", "title": "Peak Area", "titleX": -151, "titleY": 152}}
   },
   "layer": [
    {"transform": [{"filter": "datum.sd > 0"}], "mark": {"type": "errorbar", "ticks": true, "size": 16, "thickness": 3}, "encoding": {"yError": {"field": "sd"}, "color": {"field": "s", "type": "nominal", "scale": {"domain": ["KO + inhibitor","KO + control","WT + inhibitor","WT + control"], "range": ["#4A4AFF","#A01515","#22BE22","#FF8A1C"]},
      "legend": {"title": "M29", "values": ["WT + control","WT + inhibitor","KO + control","KO + inhibitor"], "orient": "none", "legendX": 184, "legendY": 13, "titlePadding": 12, "rowPadding": 6, "symbolType": "M-0.8,0L2.5,0", "symbolSize": 400, "symbolStrokeWidth": 4, "labelExpr": "''"}}}},
    {"mark": {"type": "line", "strokeWidth": 4}, "encoding": {"color": {"field": "s", "type": "nominal", "scale": {"domain": ["KO + inhibitor","KO + control","WT + inhibitor","WT + control"], "range": ["#4A4AFF","#A01515","#22BE22","#FF8A1C"]},
      "legend": {"title": "M29", "values": ["WT + control","WT + inhibitor","KO + control","KO + inhibitor"], "orient": "none", "legendX": 184, "legendY": 13, "titlePadding": 12, "rowPadding": 6, "symbolType": "M-0.8,0L2.5,0", "symbolSize": 400, "symbolStrokeWidth": 4, "labelExpr": "''"}}}},
    {"mark": {"type": "point", "filled": true, "opacity": 1, "size": 220, "strokeWidth": 2},
     "encoding": {
      "fill": {"field": "s", "type": "nominal", "scale": {"domain": ["WT + control","WT + inhibitor","KO + control","KO + inhibitor"], "range": ["#FF8A1C","#22BE22","#A01515","#4A4AFF"]}},
      "stroke": {"field": "s", "type": "nominal", "scale": {"domain": ["WT + control","WT + inhibitor","KO + control","KO + inhibitor"], "range": ["#FF8A1C","#22BE22","#A01515","#4A4AFF"]}},
      "shape": {"field": "s", "type": "nominal", "scale": {"domain": ["WT + control","WT + inhibitor","KO + control","KO + inhibitor"], "range": ["M-1,-0.75L1,-0.75L0,1Z","M0,-1.1L0.8,0L0,1.1L-0.8,0Z","M0,-1L0,1M-0.87,-0.5L0.87,0.5M-0.87,0.5L0.87,-0.5M-1,0L1,0","circle"]},
       "legend": {"title": null, "orient": "none", "legendX": 195.4, "legendY": 48, "rowPadding": 6, "symbolSize": 200, "symbolStrokeWidth": 2, "labelOffset": 16.4}}
     }}
   ]
  },
  {
   "width": 436, "height": 296,
   "title": {"text": "H", "dx": 16, "dy": 42},
   "data": {"name": "H"},
   "encoding": {
    "x": {"field": "m", "type": "nominal", "scale": {"paddingInner": 0.21, "paddingOuter": 0.15}, "axis": {"title": null, "labelAngle": 0, "labelFontSize": 25, "labelPadding": 6}},
    "xOffset": {"field": "s", "type": "nominal", "scale": {"domain": ["WT+ control","WT + inhibitor","KO + control","KO + inhibitor"], "paddingInner": 0, "paddingOuter": 0}},
    "color": {"field": "s", "type": "nominal", "scale": {"domain": ["WT+ control","WT + inhibitor","KO + control","KO + inhibitor"], "range": ["#FF8000","#1EC81E","#990050","#0000FF"]}, "legend": null}
   },
   "layer": [
    {"transform": [{"filter": "datum.v > 1.2e8"}], "mark": {"type": "bar", "opacity": 1},
     "encoding": {
      "y": {"field": "v", "type": "quantitative", "scale": {"domain": [1.2e8, 6e8], "range": [136, 0], "zero": false, "nice": false, "clamp": true}, "axis": {"orient": "left", "values": [1.2e8, 3e8, 6e8], "labelExpr": "datum.value < 2e8 ? '' : format(datum.value / 1e8, '.1f') + '×10⁰⁸'", "title": "hr*Peak area", "titleX": -148, "titleY": 148}},
      "y2": {"datum": 1.2e8},
      "color": {"field": "s", "type": "nominal", "scale": {"domain": ["WT+ control","WT + inhibitor","KO + control","KO + inhibitor"], "range": ["#FF8000","#1EC81E","#990050","#0000FF"]},
       "legend": {"title": "AUC₀₋ₜ", "orient": "none", "legendX": 183, "legendY": -4, "titlePadding": 18, "symbolType": "M1.6,-0.6L3.6,-0.6L3.6,0.6L1.6,0.6Z", "symbolSize": 900, "symbolStrokeWidth": 0, "labelOffset": 58}}
     }},
    {"transform": [{"filter": "datum.v > 1.2e8"}], "mark": {"type": "rule", "strokeWidth": 3}, "encoding": {"y": {"field": "v", "type": "quantitative", "scale": {"domain": [1.2e8, 6e8], "range": [136, 0], "zero": false, "nice": false, "clamp": true}, "axis": null}, "y2": {"field": "hi"}}},
    {"transform": [{"filter": "datum.v > 1.2e8"}], "mark": {"type": "tick", "size": 11, "thickness": 4, "opacity": 1}, "encoding": {"y": {"field": "hi", "type": "quantitative", "scale": {"domain": [1.2e8, 6e8], "range": [136, 0], "zero": false, "nice": false, "clamp": true}, "axis": null}}},
    {"mark": {"type": "bar", "opacity": 1},
     "encoding": {
      "y": {"field": "v", "type": "quantitative", "scale": {"domain": [0, 1.1e8], "range": [296, 158], "nice": false, "clamp": true}, "axis": {"orient": "left", "values": [0, 5e7, 1e8, 1.1e8], "labelExpr": "datum.value == 0 ? '0' : datum.value > 1.05e8 ? '' : datum.value < 1e8 ? format(datum.value / 1e7, '.1f') + '×10⁰⁷' : format(datum.value / 1e8, '.1f') + '×10⁰⁸'", "title": null}}
     }},
    {"transform": [{"filter": "datum.v < 1.1e8"}], "mark": {"type": "rule", "strokeWidth": 3}, "encoding": {"y": {"field": "v", "type": "quantitative", "scale": {"domain": [0, 1.1e8], "range": [296, 158], "nice": false, "clamp": true}, "axis": null}, "y2": {"field": "hi"}}},
    {"transform": [{"filter": "datum.v < 1.1e8"}], "mark": {"type": "tick", "size": 11, "thickness": 4, "opacity": 1}, "encoding": {"y": {"field": "hi", "type": "quantitative", "scale": {"domain": [0, 1.1e8], "range": [296, 158], "nice": false, "clamp": true}, "axis": null}}},
    {"data": {"name": "Hs"}, "mark": {"type": "point", "shape": "M0,0L2,0", "size": 441, "strokeWidth": 3, "filled": false, "opacity": 1}, "encoding": {"y": {"field": "y", "type": "quantitative", "scale": {"domain": [0, 1.1e8], "range": [296, 158], "nice": false, "clamp": true}, "axis": null}, "color": {"value": "black"}}},
    {"data": {"name": "Hs"}, "mark": {"type": "text", "fontSize": 28, "fontWeight": "bold", "dx": 10.5, "dy": 4, "baseline": "alphabetic"}, "encoding": {"y": {"field": "y", "type": "quantitative", "scale": {"domain": [0, 1.1e8], "range": [296, 158], "nice": false, "clamp": true}, "axis": null}, "text": {"field": "lab"}, "color": {"value": "#FF2020"}}}
   ],
   "resolve": {"scale": {"y": "independent"}, "axis": {"y": "independent"}}
  },
  {
   "width": 209, "height": 296,
   "title": {"text": "I", "dx": 8, "dy": 38},
   "data": {"name": "I"},
   "encoding": {
    "x": {"field": "m", "type": "nominal", "scale": {"paddingInner": 0.18, "paddingOuter": 0.1}, "axis": {"title": null, "labelAngle": 0, "labelFontSize": 25, "labelPadding": 6}},
    "xOffset": {"field": "s", "type": "nominal", "scale": {"domain": ["WT+ control","WT + inhibitor","KO + control","KO + inhibitor"], "paddingInner": 0, "paddingOuter": 0}},
    "color": {"field": "s", "type": "nominal", "scale": {"domain": ["WT+ control","WT + inhibitor","KO + control","KO + inhibitor"], "range": ["#FFA54F","#22CC22","#99004C","#0000FF"]}, "legend": null}
   },
   "layer": [
    {"transform": [{"filter": "datum.v > 4e8"}], "mark": {"type": "bar", "opacity": 1},
     "encoding": {
      "y": {"field": "v", "type": "quantitative", "scale": {"domain": [4e8, 3e9], "range": [136, 0], "zero": false, "nice": false, "clamp": true}, "axis": {"orient": "left", "values": [4e8, 1.5e9, 3e9], "labelExpr": "datum.value < 1e9 ? '' : format(datum.value / 1e9, '.1f') + '×10⁰⁹'", "title": "hr*Peak area", "titleX": -146, "titleY": 148}},
      "y2": {"datum": 4e8},
      "color": {"field": "s", "type": "nominal", "scale": {"domain": ["WT+ control","WT + inhibitor","KO + control","KO + inhibitor"], "range": ["#FFA54F","#22CC22","#99004C","#0000FF"]},
       "legend": {"title": "AUC₀₋ₜ", "orient": "none", "legendX": 72, "legendY": -6, "titlePadding": 2, "symbolType": "M1.73,-0.6L3.73,-0.6L3.73,0.6L1.73,0.6Z", "symbolSize": 900, "symbolStrokeWidth": 0, "labelOffset": 60}}
     }},
    {"transform": [{"filter": "datum.v > 4e8"}], "mark": {"type": "rule", "strokeWidth": 3}, "encoding": {"y": {"field": "v", "type": "quantitative", "scale": {"domain": [4e8, 3e9], "range": [136, 0], "zero": false, "nice": false, "clamp": true}, "axis": null}, "y2": {"field": "hi"}}},
    {"transform": [{"filter": "datum.v > 4e8"}], "mark": {"type": "tick", "size": 11, "thickness": 4, "opacity": 1}, "encoding": {"y": {"field": "hi", "type": "quantitative", "scale": {"domain": [4e8, 3e9], "range": [136, 0], "zero": false, "nice": false, "clamp": true}, "axis": null}}},
    {"data": {"name": "Is"}, "transform": [{"filter": "datum.seg == 'upper'"}], "mark": {"type": "point", "shape": "M0,0L2,0", "size": 441, "strokeWidth": 3, "filled": false, "opacity": 1}, "encoding": {"y": {"field": "y", "type": "quantitative", "scale": {"domain": [4e8, 3e9], "range": [136, 0], "zero": false, "nice": false, "clamp": true}, "axis": null}, "color": {"value": "black"}}},
    {"data": {"name": "Is"}, "transform": [{"filter": "datum.seg == 'upper'"}], "mark": {"type": "text", "fontSize": 28, "fontWeight": "bold", "dx": 10.5, "dy": 4, "baseline": "alphabetic"}, "encoding": {"y": {"field": "y", "type": "quantitative", "scale": {"domain": [4e8, 3e9], "range": [136, 0], "zero": false, "nice": false, "clamp": true}, "axis": null}, "text": {"field": "lab"}, "color": {"value": "#FF2020"}}},
    {"mark": {"type": "bar", "opacity": 1},
     "encoding": {
      "y": {"field": "v", "type": "quantitative", "scale": {"domain": [0, 2e7], "range": [296, 158], "nice": false, "clamp": true}, "axis": {"orient": "left", "values": [0, 7e6, 1.4e7, 2e7], "labelExpr": "datum.value == 0 ? '0' : datum.value > 1.5e7 ? '' : datum.value < 1e7 ? format(datum.value / 1e6, '.1f') + '×10⁰⁶' : format(datum.value / 1e7, '.1f') + '×10⁰⁷'", "title": null}}
     }},
    {"transform": [{"filter": "datum.v < 2e7"}], "mark": {"type": "rule", "strokeWidth": 3}, "encoding": {"y": {"field": "v", "type": "quantitative", "scale": {"domain": [0, 2e7], "range": [296, 158], "nice": false, "clamp": true}, "axis": null}, "y2": {"field": "hi"}}},
    {"transform": [{"filter": "datum.v < 2e7"}], "mark": {"type": "tick", "size": 11, "thickness": 4, "opacity": 1}, "encoding": {"y": {"field": "hi", "type": "quantitative", "scale": {"domain": [0, 2e7], "range": [296, 158], "nice": false, "clamp": true}, "axis": null}}},
    {"data": {"name": "Is"}, "transform": [{"filter": "datum.seg == 'lower'"}], "mark": {"type": "point", "shape": "M0,0L2,0", "size": 441, "strokeWidth": 3, "filled": false, "opacity": 1}, "encoding": {"y": {"field": "y", "type": "quantitative", "scale": {"domain": [0, 2e7], "range": [296, 158], "nice": false, "clamp": true}, "axis": null}, "color": {"value": "black"}}},
    {"data": {"name": "Is"}, "transform": [{"filter": "datum.seg == 'lower'"}], "mark": {"type": "text", "fontSize": 28, "fontWeight": "bold", "dx": 10.5, "dy": 4, "baseline": "alphabetic"}, "encoding": {"y": {"field": "y", "type": "quantitative", "scale": {"domain": [0, 2e7], "range": [296, 158], "nice": false, "clamp": true}, "axis": null}, "text": {"field": "lab"}, "color": {"value": "#FF2020"}}}
   ],
   "resolve": {"scale": {"y": "independent"}, "axis": {"y": "independent"}}
  }
 ],
 "config": {
  "font": "Liberation Sans",
  "view": {"stroke": null},
  "axis": {"labelFont": "Liberation Sans", "labelFontSize": 23, "labelFontWeight": "bold", "labelColor": "black", "titleFont": "Liberation Sans", "titleFontSize": 26, "titleFontWeight": "bold", "titleColor": "black", "domainColor": "black", "domainWidth": 4, "tickColor": "black", "tickWidth": 4, "tickSize": 9, "grid": false, "labelPadding": 3, "labelFlush": false, "labelOverlap": false},
  "axisX": {"titlePadding": 12},
  "axisY": {"titleBaseline": "middle", "titleAngle": 270},
  "legend": {"labelFont": "Liberation Sans", "labelFontSize": 25, "labelFontWeight": "bold", "labelColor": "black", "titleFont": "Liberation Sans", "titleFontSize": 25, "titleFontWeight": "bold", "titleColor": "black", "padding": 0, "rowPadding": 0, "labelOffset": 17, "labelLimit": 0, "titleLimit": 0, "symbolLimit": 0},
  "title": {"font": "Liberation Sans", "fontSize": 30, "fontWeight": "bold", "color": "black", "anchor": "start", "frame": "group", "offset": 0, "baseline": "alphabetic"}
 }
}
